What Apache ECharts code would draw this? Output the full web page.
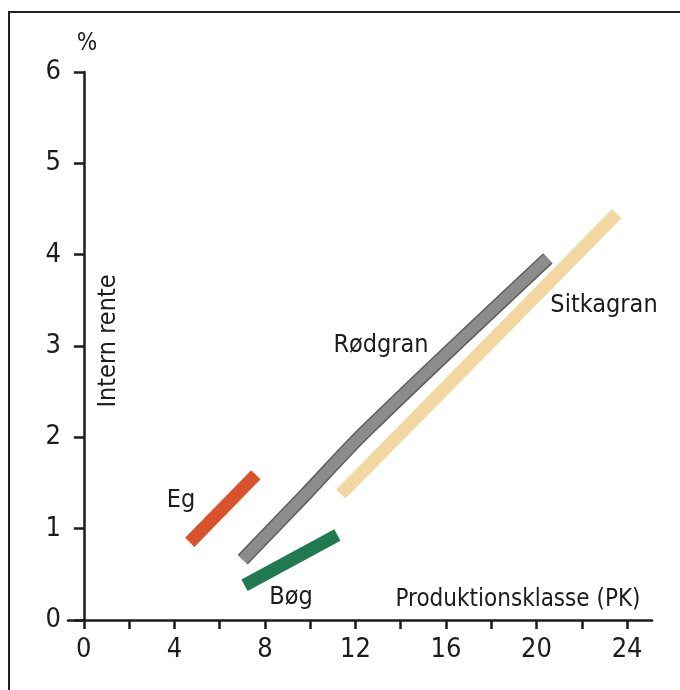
<!DOCTYPE html>
<html>
<head>
<meta charset="utf-8">
<script src="https://cdn.jsdelivr.net/npm/echarts@6/dist/echarts.min.js"></script>
<style>
html,body{margin:0;padding:0;background:#fff;}
#c{width:680px;height:690px;}
</style>
</head>
<body>
<div id="c"></div>
<script>
// ---- data ----
const xTickValues = [0, 2, 4, 6, 8, 10, 12, 14, 16, 18, 20, 22, 24];
const xLabelValues = [0, 4, 8, 12, 16, 20, 24];
const yTickValues = [0, 1, 2, 3, 4, 5, 6];

const egData = [[4.68, 0.85], [7.6, 1.59]];
const bogData = [[7.1, 0.38], [11.2, 0.93]];
const rodgranData = [[7.02, 0.66], [9.85, 1.39], [12.5, 2.08], [20.5, 3.96]];
const sitkagranData = [[11.35, 1.38], [23.55, 4.45]];

const seriesNames = ['Eg', 'Bøg', 'Rødgran', 'Sitkagran'];
const yAxisTitle = 'Intern rente';
const xAxisTitle = 'Produktionsklasse (PK)';
const unitLabel = '%';

const FONT = "'Liberation Sans Narrow', 'DejaVu Sans Condensed', 'Roboto', sans-serif";
const INK = '#1c1c1c';

const chart = echarts.init(document.getElementById('c'));

function lineSeries(name, data, color, width, z, smooth) {
  return {
    name: name,
    type: 'line',
    data: data,
    showSymbol: false,
    silent: true,
    smooth: smooth || false,
    z: z,
    lineStyle: { color: color, width: width, cap: 'butt', join: 'round' }
  };
}

const option = {
  animation: false,
  backgroundColor: '#ffffff',
  grid: { left: 68, right: 28, top: 72, bottom: 70, containLabel: false },
  xAxis: {
    type: 'value',
    min: -0.7,
    max: 25.1,
    axisLine: { onZero: false, lineStyle: { color: INK, width: 2.5 } },
    axisTick: { show: true, customValues: xTickValues, length: 9, lineStyle: { color: INK, width: 2.5 } },
    axisLabel: { customValues: xLabelValues, margin: 16, color: INK, fontSize: 27, fontFamily: FONT },
    splitLine: { show: false }
  },
  yAxis: {
    type: 'value',
    min: 0,
    max: 6,
    interval: 1,
    axisLine: { show: true, onZero: true, lineStyle: { color: INK, width: 2.5 } },
    axisTick: { show: true, customValues: yTickValues, length: 10, lineStyle: { color: INK, width: 2.5 } },
    axisLabel: { customValues: yTickValues, margin: 7, color: INK, fontSize: 27, fontFamily: FONT },
    splitLine: { show: false }
  },
  series: [
    lineSeries(seriesNames[3], sitkagranData, '#f3d7a0', 13, 2),
    lineSeries(seriesNames[2] + ' edge', rodgranData, '#5e5e5e', 14, 3, 0.35),
    lineSeries(seriesNames[2], rodgranData, '#8c8c8c', 11, 4, 0.35),
    lineSeries(seriesNames[0], egData, '#d9522c', 13, 5),
    lineSeries(seriesNames[1], bogData, '#1f7a52', 13, 5)
  ],
  graphic: [
    { type: 'rect', shape: { x: 9, y: 12, width: 720, height: 720 }, style: { fill: 'none', stroke: '#222', lineWidth: 2 }, z: 10 },
    { type: 'text', x: 87, y: 44, style: { text: unitLabel, fontSize: 24, fontFamily: FONT, fill: INK, align: 'center', verticalAlign: 'middle' } },
    { type: 'text', x: 108, y: 341, rotation: Math.PI / 2, style: { text: yAxisTitle, fontSize: 25, fontFamily: FONT, fill: INK, align: 'center', verticalAlign: 'middle' } },
    { type: 'text', x: 518, y: 600, style: { text: xAxisTitle, fontSize: 24, fontFamily: FONT, fill: INK, align: 'center', verticalAlign: 'middle' } },
    { type: 'text', x: 181, y: 500, style: { text: seriesNames[0], fontSize: 25, fontFamily: FONT, fill: INK, align: 'center', verticalAlign: 'middle' } },
    { type: 'text', x: 291, y: 597, style: { text: seriesNames[1], fontSize: 25, fontFamily: FONT, fill: INK, align: 'center', verticalAlign: 'middle' } },
    { type: 'text', x: 381, y: 345, style: { text: seriesNames[2], fontSize: 25, fontFamily: FONT, fill: INK, align: 'center', verticalAlign: 'middle' } },
    { type: 'text', x: 604, y: 305, style: { text: seriesNames[3], fontSize: 25, fontFamily: FONT, fill: INK, align: 'center', verticalAlign: 'middle' } }
  ]
};
chart.setOption(option);
</script>
</body>
</html>
